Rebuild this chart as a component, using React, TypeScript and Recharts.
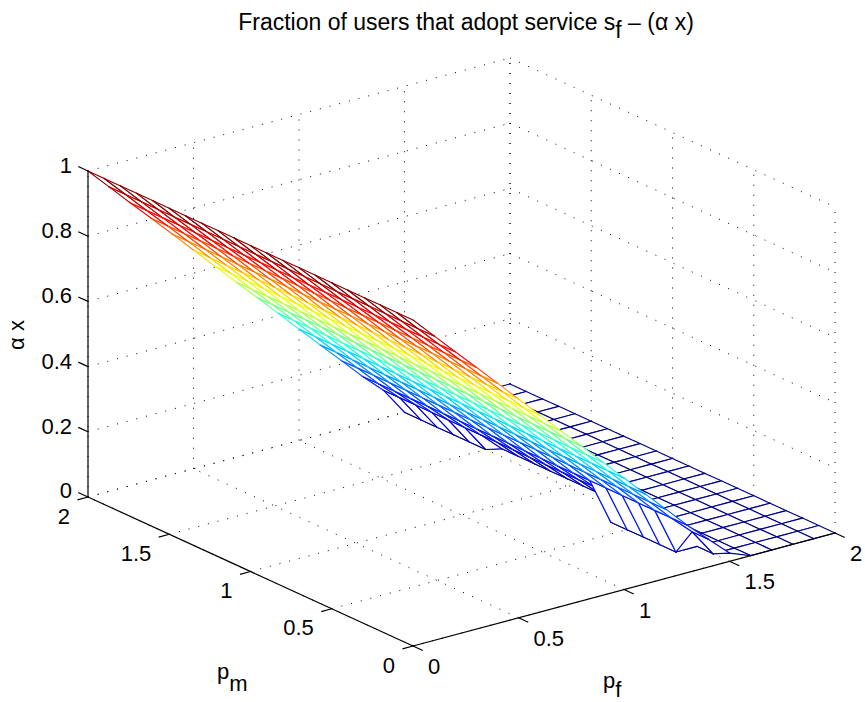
import { ScatterChart, Scatter, XAxis, YAxis } from 'recharts';

const WIDTH = 865;
const HEIGHT = 702;

const pfGrid = [0, 0.1, 0.2, 0.3, 0.4, 0.5, 0.6, 0.7, 0.8, 0.9, 1, 1.1, 1.2, 1.3, 1.4, 1.5, 1.6, 1.7, 1.8, 1.9, 2];
const pmGrid = [0, 0.1, 0.2, 0.3, 0.4, 0.5, 0.6, 0.7, 0.8, 0.9, 1, 1.1, 1.2, 1.3, 1.4, 1.5, 1.6, 1.7, 1.8, 1.9, 2];

// adoption fraction, one row per pf, one column per pm
const adoption = [
  [1, 1, 1, 1, 1, 1, 1, 1, 1, 1, 1, 1, 1, 1, 1, 1, 1, 1, 1, 1, 1],
  [0.934, 0.934, 0.934, 0.934, 0.934, 0.934, 0.934, 0.934, 0.934, 0.934, 0.934, 0.934, 0.934, 0.934, 0.934, 0.934, 0.934, 0.934, 0.934, 0.934, 0.934],
  [0.868, 0.868, 0.868, 0.868, 0.868, 0.868, 0.868, 0.868, 0.868, 0.868, 0.868, 0.868, 0.868, 0.868, 0.868, 0.868, 0.868, 0.868, 0.868, 0.868, 0.868],
  [0.803, 0.803, 0.803, 0.803, 0.803, 0.803, 0.803, 0.803, 0.803, 0.803, 0.803, 0.803, 0.803, 0.803, 0.803, 0.803, 0.803, 0.803, 0.803, 0.803, 0.803],
  [0.737, 0.737, 0.737, 0.737, 0.737, 0.737, 0.737, 0.737, 0.737, 0.737, 0.737, 0.737, 0.737, 0.737, 0.737, 0.737, 0.737, 0.737, 0.737, 0.737, 0.737],
  [0.671, 0.671, 0.671, 0.671, 0.671, 0.671, 0.671, 0.671, 0.671, 0.671, 0.671, 0.671, 0.671, 0.671, 0.671, 0.671, 0.671, 0.671, 0.671, 0.671, 0.671],
  [0.605, 0.605, 0.605, 0.605, 0.605, 0.605, 0.605, 0.605, 0.605, 0.605, 0.605, 0.605, 0.605, 0.605, 0.605, 0.605, 0.605, 0.605, 0.605, 0.605, 0.605],
  [0.539, 0.539, 0.539, 0.539, 0.539, 0.539, 0.539, 0.539, 0.539, 0.539, 0.539, 0.539, 0.539, 0.539, 0.539, 0.539, 0.539, 0.539, 0.539, 0.539, 0.539],
  [0.474, 0.474, 0.474, 0.474, 0.474, 0.474, 0.474, 0.474, 0.474, 0.474, 0.474, 0.474, 0.474, 0.474, 0.474, 0.474, 0.474, 0.474, 0.474, 0.474, 0.474],
  [0.408, 0.408, 0.408, 0.408, 0.408, 0.408, 0.408, 0.408, 0.408, 0.408, 0.408, 0.408, 0.408, 0.408, 0.408, 0.408, 0.408, 0.408, 0.408, 0.408, 0.408],
  [0.342, 0.342, 0.342, 0.342, 0.342, 0.342, 0.342, 0.342, 0.342, 0.342, 0.342, 0.342, 0.342, 0.342, 0.342, 0.342, 0.342, 0.342, 0.342, 0.342, 0.342],
  [0.276, 0.276, 0.276, 0.276, 0.276, 0.276, 0.276, 0.276, 0.276, 0.276, 0.276, 0.276, 0.276, 0.276, 0.276, 0.276, 0.276, 0.276, 0.276, 0.276, 0.276],
  [0.211, 0.211, 0.211, 0.211, 0.211, 0.211, 0.211, 0.211, 0.211, 0.211, 0.211, 0.211, 0.211, 0.211, 0.211, 0.211, 0.211, 0.211, 0.211, 0.211, 0.211],
  [0.145, 0.145, 0.145, 0.145, 0.145, 0.145, 0.145, 0.145, 0.145, 0.145, 0.145, 0.145, 0.145, 0.145, 0.145, 0.145, 0.145, 0.145, 0.145, 0.145, 0.145],
  [0.085, 0.085, 0, 0, 0, 0, 0, 0.085, 0.085, 0.085, 0.085, 0.085, 0.085, 0.085, 0.085, 0.085, 0.085, 0.085, 0.085, 0.085, 0.085],
  [0.025, 0, 0, 0, 0, 0, 0, 0.025, 0.025, 0.025, 0.025, 0.025, 0.025, 0.025, 0.025, 0, 0, 0, 0, 0, 0],
  [0, 0, 0, 0, 0, 0, 0, 0, 0, 0, 0, 0, 0, 0, 0, 0, 0, 0, 0, 0, 0],
  [0, 0, 0, 0, 0, 0, 0, 0, 0, 0, 0, 0, 0, 0, 0, 0, 0, 0, 0, 0, 0],
  [0, 0, 0, 0, 0, 0, 0, 0, 0, 0, 0, 0, 0, 0, 0, 0, 0, 0, 0, 0, 0],
  [0, 0, 0, 0, 0, 0, 0, 0, 0, 0, 0, 0, 0, 0, 0, 0, 0, 0, 0, 0, 0],
  [0, 0, 0, 0, 0, 0, 0, 0, 0, 0, 0, 0, 0, 0, 0, 0, 0, 0, 0, 0, 0],
];

const priceTicks = [0, 0.5, 1, 1.5, 2];
const priceTickLabels = ['0', '0.5', '1', '1.5', '2'];
const zTicks = [0, 0.2, 0.4, 0.6, 0.8, 1];
const zTickLabels = ['0', '0.2', '0.4', '0.6', '0.8', '1'];

const FONT = '"Liberation Sans", Arial, sans-serif';
const FONT_SIZE = 22;

// the view of the 3-d box, as a flat projection onto the chart's x/y axes
function project(pf: number, pm: number, z: number) {
  return {
    x: 413 + 211 * pf - 162.5 * pm,
    y: 646 - 56.5 * pf - 74.5 * pm - 326 * z,
  };
}

// matlab jet, 64 levels
function jet(v: number) {
  const t = (Math.min(63, Math.floor(v * 64)) + 0.5) / 64;
  const ramp = (c: number) => Math.round(255 * Math.max(0, Math.min(1, 1.5 - Math.abs(4 * t - c))));
  return `rgb(${ramp(3)},${ramp(2)},${ramp(1)})`;
}

const noDot = () => null;

function cellLine(i: number, j: number) {
  const z00 = adoption[i][j];
  const z10 = adoption[i + 1][j];
  const z11 = adoption[i + 1][j + 1];
  const z01 = adoption[i][j + 1];
  return (props: any) => {
    const [a, b, c, d] = props.points;
    const edge = (p: any, q: any, z: number, k: string) => (
      <line key={k} x1={p.x} y1={p.y} x2={q.x} y2={q.y} stroke={jet(z)} strokeWidth={1.15} strokeLinecap="round" />
    );
    return (
      <g>
        <polygon points={`${a.x},${a.y} ${b.x},${b.y} ${c.x},${c.y} ${d.x},${d.y}`} fill="#fff" stroke="none" />
        {edge(a, b, Math.max(z00, z10), 'ab')}
        {edge(b, c, Math.max(z10, z11), 'bc')}
        {edge(c, d, Math.max(z11, z01), 'cd')}
        {edge(d, a, Math.max(z01, z00), 'da')}
      </g>
    );
  };
}

const gridLines: { x: number; y: number }[][] = [];
priceTicks.forEach((t) => {
  gridLines.push([project(t, 0, 0), project(t, 2, 0)]);
  gridLines.push([project(0, t, 0), project(2, t, 0)]);
  gridLines.push([project(t, 2, 0), project(t, 2, 1)]);
  gridLines.push([project(2, t, 0), project(2, t, 1)]);
});
zTicks.forEach((t) => {
  gridLines.push([project(0, 2, t), project(2, 2, t)]);
  gridLines.push([project(2, 2, t), project(2, 0, t)]);
});

const axisLines: { x: number; y: number }[][] = [
  [project(0, 2, 0), project(0, 2, 1)],
  [project(0, 0, 0), project(0, 2, 0)],
  [project(0, 0, 0), project(2, 0, 0)],
];
priceTicks.forEach((t) => {
  axisLines.push([project(t, 0, 0), project(t, -0.06, 0)]);
  axisLines.push([project(0, t, 0), project(-0.05, t, 0)]);
});
zTicks.forEach((t) => {
  axisLines.push([project(0, 2, t), project(0, 2.06, t)]);
});

const tickText = [
  ...zTicks.map((t, k) => {
    const p = project(0, 2, t);
    return { x: 72, y: p.y + (t === 0 ? 1 : 2), label: zTickLabels[k], anchor: 'end' };
  }),
  ...priceTicks.map((t, k) => {
    const p = project(0, t, 0);
    return { x: p.x - 18, y: p.y + 26.5, label: priceTickLabels[k], anchor: 'end' };
  }),
  ...priceTicks.map((t, k) => {
    const p = project(t, 0, 0);
    return { x: p.x + 15, y: p.y + 28, label: priceTickLabels[k], anchor: 'start' };
  }),
];

const textShape = (props: any) => {
  const { cx, cy, payload } = props;
  return (
    <text x={cx} y={cy} textAnchor={payload.anchor} fontFamily={FONT} fontSize={FONT_SIZE} fill="#000">
      {payload.label}
    </text>
  );
};

const titleShape = (props: any) => (
  <text x={props.cx} y={props.cy} textAnchor="middle" fontFamily={FONT} fontSize={23} fill="#000">
    Fraction of users that adopt service s
    <tspan dy={8}>f</tspan>
    <tspan dy={-8}> – (α x)</tspan>
  </text>
);

const pmShape = (props: any) => (
  <text x={props.cx} y={props.cy} fontFamily={FONT} fontSize={FONT_SIZE} fill="#000">
    p<tspan dy={12}>m</tspan>
  </text>
);

const pfShape = (props: any) => (
  <text x={props.cx} y={props.cy} fontFamily={FONT} fontSize={FONT_SIZE} fill="#000">
    p<tspan dy={9}>f</tspan>
  </text>
);

const zLabelShape = (props: any) => (
  <text
    x={props.cx}
    y={props.cy}
    textAnchor="middle"
    fontFamily={FONT}
    fontSize={FONT_SIZE}
    fill="#000"
    transform={`rotate(-90 ${props.cx} ${props.cy})`}
  >
    α x
  </text>
);

const cells: { i: number; j: number }[] = [];
for (let i = pfGrid.length - 2; i >= 0; i--) {
  for (let j = pmGrid.length - 2; j >= 0; j--) {
    cells.push({ i, j });
  }
}

export default function App() {
  return (
    <div style={{ position: 'absolute', left: 0, top: 0, width: WIDTH, height: HEIGHT, background: '#fff' }}>
      <ScatterChart width={WIDTH} height={HEIGHT} margin={{ top: 0, right: 0, bottom: 0, left: 0 }}>
        <XAxis type="number" dataKey="x" domain={[0, WIDTH]} hide allowDataOverflow />
        <YAxis type="number" dataKey="y" domain={[0, HEIGHT]} reversed hide allowDataOverflow />

        {gridLines.map((seg, k) => (
          <Scatter
            key={`grid-${k}`}
            data={seg}
            shape={noDot}
            line={{ stroke: '#000', strokeWidth: 1, strokeDasharray: '1 9' }}
            isAnimationActive={false}
          />
        ))}

        {cells.map(({ i, j }) => (
          <Scatter
            key={`cell-${i}-${j}`}
            data={[
              project(pfGrid[i], pmGrid[j], adoption[i][j]),
              project(pfGrid[i + 1], pmGrid[j], adoption[i + 1][j]),
              project(pfGrid[i + 1], pmGrid[j + 1], adoption[i + 1][j + 1]),
              project(pfGrid[i], pmGrid[j + 1], adoption[i][j + 1]),
            ]}
            shape={noDot}
            line={cellLine(i, j)}
            isAnimationActive={false}
          />
        ))}

        {axisLines.map((seg, k) => (
          <Scatter
            key={`axis-${k}`}
            data={seg}
            shape={noDot}
            line={{ stroke: '#000', strokeWidth: 1.2 }}
            isAnimationActive={false}
          />
        ))}

        <Scatter data={tickText} shape={textShape} isAnimationActive={false} />
        <Scatter data={[{ x: 466, y: 30 }]} shape={titleShape} isAnimationActive={false} />
        <Scatter data={[{ x: 217, y: 679 }]} shape={pmShape} isAnimationActive={false} />
        <Scatter data={[{ x: 603, y: 688 }]} shape={pfShape} isAnimationActive={false} />
        <Scatter data={[{ x: 24, y: 335 }]} shape={zLabelShape} isAnimationActive={false} />
      </ScatterChart>
    </div>
  );
}
